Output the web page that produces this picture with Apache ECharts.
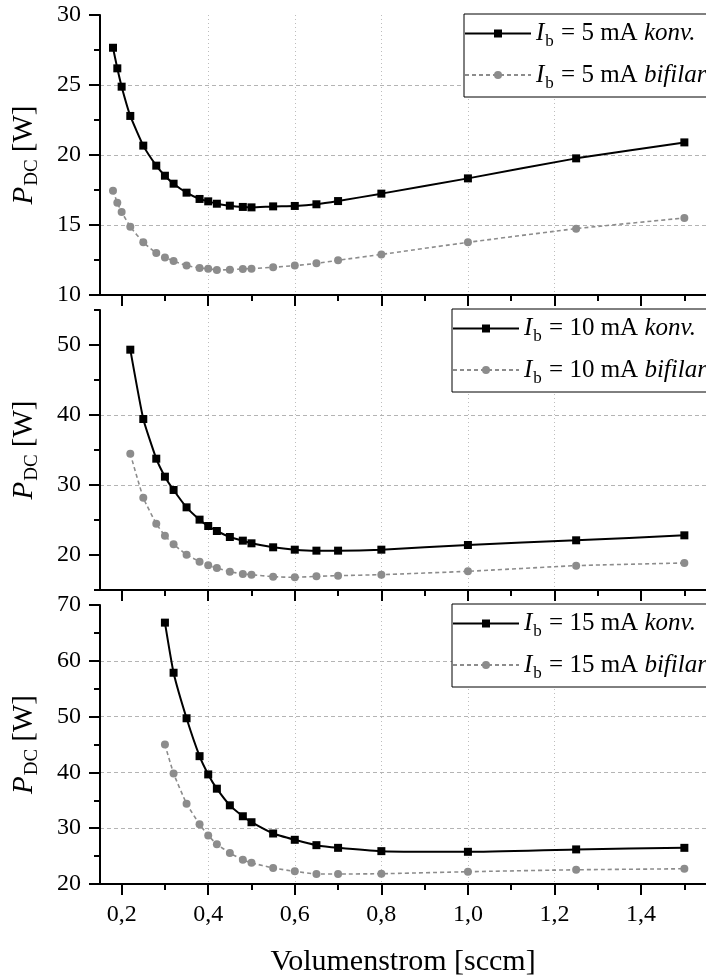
<!DOCTYPE html>
<html>
<head>
<meta charset="utf-8">
<script src="https://cdn.jsdelivr.net/npm/echarts@6/dist/echarts.min.js"></script>
<style>
  html, body { margin: 0; padding: 0; background: #fff; }
  #chart { width: 706px; height: 978px; }
</style>
</head>
<body>
<div id="chart"></div>
<script>
// Discharge power P_DC versus gas flow for three beam currents,
// conventional (konv.) vs. bifilar winding.
const flow5 = [0.18, 0.19, 0.20, 0.22, 0.25, 0.28, 0.30, 0.32, 0.35, 0.38, 0.40, 0.42, 0.45, 0.48, 0.50, 0.55, 0.60, 0.65, 0.70, 0.80, 1.00, 1.25, 1.50];
const konv5 = [27.66, 26.19, 24.88, 22.79, 20.67, 19.24, 18.52, 17.95, 17.31, 16.86, 16.69, 16.52, 16.38, 16.29, 16.26, 16.33, 16.36, 16.48, 16.71, 17.24, 18.33, 19.76, 20.90];
const bifilar5 = [17.45, 16.59, 15.93, 14.88, 13.76, 13.00, 12.67, 12.43, 12.10, 11.93, 11.88, 11.79, 11.81, 11.86, 11.88, 11.98, 12.10, 12.26, 12.48, 12.90, 13.76, 14.74, 15.50];

const flow10 = [0.22, 0.25, 0.28, 0.30, 0.32, 0.35, 0.38, 0.40, 0.42, 0.45, 0.48, 0.50, 0.55, 0.60, 0.65, 0.70, 0.80, 1.00, 1.25, 1.50];
const konv10 = [49.33, 39.43, 33.76, 31.19, 29.29, 26.81, 25.05, 24.14, 23.43, 22.57, 22.05, 21.67, 21.10, 20.76, 20.62, 20.62, 20.76, 21.43, 22.10, 22.81];
const bifilar10 = [34.47, 28.19, 24.47, 22.76, 21.52, 20.05, 19.05, 18.52, 18.14, 17.62, 17.29, 17.19, 16.90, 16.81, 16.95, 17.05, 17.19, 17.67, 18.48, 18.86];

const flow15 = [0.30, 0.32, 0.35, 0.38, 0.40, 0.42, 0.45, 0.48, 0.50, 0.55, 0.60, 0.65, 0.70, 0.80, 1.00, 1.25, 1.50];
const konv15 = [66.84, 57.86, 49.70, 42.91, 39.64, 37.08, 34.10, 32.14, 31.07, 29.05, 27.92, 26.96, 26.48, 25.89, 25.77, 26.20, 26.48];
const bifilar15 = [45.00, 39.82, 34.40, 30.71, 28.70, 27.14, 25.54, 24.34, 23.80, 22.86, 22.27, 21.79, 21.79, 21.84, 22.20, 22.55, 22.73];

// Tick positions
const xMajorTicks = [0.2, 0.4, 0.6, 0.8, 1.0, 1.2, 1.4];
const xMinorTicks = [0.3, 0.5, 0.7, 0.9, 1.1, 1.3, 1.5];
const yMajorTicks5 = [10, 15, 20, 25, 30];
const yMinorTicks5 = [12.5, 17.5, 22.5, 27.5];
const yMajorTicks10 = [20, 30, 40, 50];
const yMinorTicks10 = [15, 25, 35, 45, 55];
const yMajorTicks15 = [20, 30, 40, 50, 60, 70];
const yMinorTicks15 = [25, 35, 45, 55, 65];

const currents = ['5 mA', '10 mA', '15 mA'];
const xTitle = 'Volumenstrom [sccm]';

const FONT = '"Liberation Serif", "Times New Roman", serif';
const GREY = '#8c8c8c';

const panels = [
  { current: currents[0], flow: flow5, konv: konv5, bifilar: bifilar5, yMin: 10, yMax: 30, major: yMajorTicks5, minor: yMinorTicks5, top: 15, legendLeft: 464 },
  { current: currents[1], flow: flow10, konv: konv10, bifilar: bifilar10, yMin: 15, yMax: 55, major: yMajorTicks10, minor: yMinorTicks10, top: 310, legendLeft: 452 },
  { current: currents[2], flow: flow15, konv: konv15, bifilar: bifilar15, yMin: 20, yMax: 70, major: yMajorTicks15, minor: yMinorTicks15, top: 605, legendLeft: 452 }
];

const pairs = (xs, ys) => xs.map((x, i) => [x, ys[i]]);

const legendRich = {
  i: { fontFamily: FONT, fontStyle: 'italic', fontSize: 25, color: '#000' },
  s: { fontFamily: FONT, fontSize: 17, color: '#000', padding: [17, 1, 0, 1] },
  t: { fontFamily: FONT, fontSize: 25, color: '#000' }
};

const tickStyle = { color: '#000', width: 2 };
const hiddenLine = { show: true, onZero: false, lineStyle: { color: '#000', width: 2, opacity: 0 } };

const grid = [], xAxis = [], yAxis = [], series = [], legend = [];

panels.forEach((p, k) => {
  const last = k === panels.length - 1;
  grid.push({ left: 100, right: 0, top: p.top, height: 280 });

  // main x axis: line, major ticks, labels, vertical grid
  xAxis.push({
    type: 'value', gridIndex: k, min: 0.15, max: 1.55, position: 'bottom',
    axisLine: { show: true, onZero: false, lineStyle: { color: '#000', width: 2 } },
    axisTick: { show: true, length: 11, customValues: xMajorTicks, lineStyle: tickStyle },
    axisLabel: {
      show: last, customValues: xMajorTicks, margin: 19,
      fontFamily: FONT, fontSize: 24, color: '#000',
      formatter: v => v.toFixed(1).replace('.', ',')
    },
    splitLine: { show: true, showMinLine: false, showMaxLine: false, lineStyle: { color: '#bdbdbd', width: 1, type: [1, 3] } },
    name: last ? xTitle : '', nameLocation: 'middle', nameGap: 63,
    nameTextStyle: { fontFamily: FONT, fontSize: 30, color: '#000' }
  });
  // second x axis carrying the minor ticks
  xAxis.push({
    type: 'value', gridIndex: k, min: 0.15, max: 1.55, position: 'bottom',
    axisLine: hiddenLine,
    axisTick: { show: true, length: 6, customValues: xMinorTicks, lineStyle: tickStyle },
    axisLabel: { show: false }, splitLine: { show: false }
  });

  // main y axis
  yAxis.push({
    type: 'value', gridIndex: k, min: p.yMin, max: p.yMax, position: 'left',
    axisLine: { show: true, onZero: false, lineStyle: { color: '#000', width: 2 } },
    axisTick: { show: true, length: 11, customValues: p.major, lineStyle: tickStyle },
    axisLabel: { customValues: p.major, margin: 19, fontFamily: FONT, fontSize: 24, color: '#000' },
    splitLine: { show: true, showMinLine: false, showMaxLine: false, lineStyle: { color: '#b4b4b4', width: 1, type: [4, 3] } },
    name: '{p|P}{s|DC}{t| [W]}', nameLocation: 'middle', nameGap: 58, nameRotate: 90,
    nameTextStyle: {
      rich: {
        p: { fontFamily: FONT, fontStyle: 'italic', fontSize: 29, color: '#000' },
        s: { fontFamily: FONT, fontSize: 19, color: '#000', padding: [16, 0, 0, 1] },
        t: { fontFamily: FONT, fontSize: 29, color: '#000' }
      }
    }
  });
  // second y axis carrying the minor ticks
  yAxis.push({
    type: 'value', gridIndex: k, min: p.yMin, max: p.yMax, position: 'left',
    axisLine: hiddenLine,
    axisTick: { show: true, length: 6, customValues: p.minor, lineStyle: tickStyle },
    axisLabel: { show: false }, splitLine: { show: false }
  });

  const nameK = 'I_b = ' + p.current + ' konv.';
  const nameB = 'I_b = ' + p.current + ' bifilar';

  series.push({
    name: nameK, type: 'line', xAxisIndex: 2 * k, yAxisIndex: 2 * k,
    data: pairs(p.flow, p.konv), smooth: 0.15,
    symbol: 'rect', symbolSize: 8,
    lineStyle: { color: '#000', width: 2 },
    itemStyle: { color: '#000' }, z: 3
  });
  series.push({
    name: nameB, type: 'line', xAxisIndex: 2 * k, yAxisIndex: 2 * k,
    data: pairs(p.flow, p.bifilar), smooth: 0.15,
    symbol: 'circle', symbolSize: 8,
    lineStyle: { color: GREY, width: 1.6, type: [4, 3] },
    itemStyle: { color: GREY }, z: 2
  });

  legend.push({
    data: [nameK, nameB], orient: 'vertical',
    left: p.legendLeft, top: p.top - 1,
    itemWidth: 66, itemHeight: 10, itemGap: 12,
    padding: [7, 12, 5, 0],
    backgroundColor: '#fff', borderColor: '#000', borderWidth: 1,
    textStyle: { fontFamily: FONT, rich: legendRich },
    formatter: name => {
      const m = name.match(/^I_b = (.+) (konv\.|bifilar)$/);
      return '{i|I}{s|b}{t| = ' + m[1] + ' }{i|' + m[2] + '}';
    }
  });
});

const chart = echarts.init(document.getElementById('chart'), null, { renderer: 'canvas' });
chart.setOption({
  animation: false,
  backgroundColor: '#fff',
  textStyle: { fontFamily: FONT },
  grid, xAxis, yAxis, series, legend
});
</script>
</body>
</html>
